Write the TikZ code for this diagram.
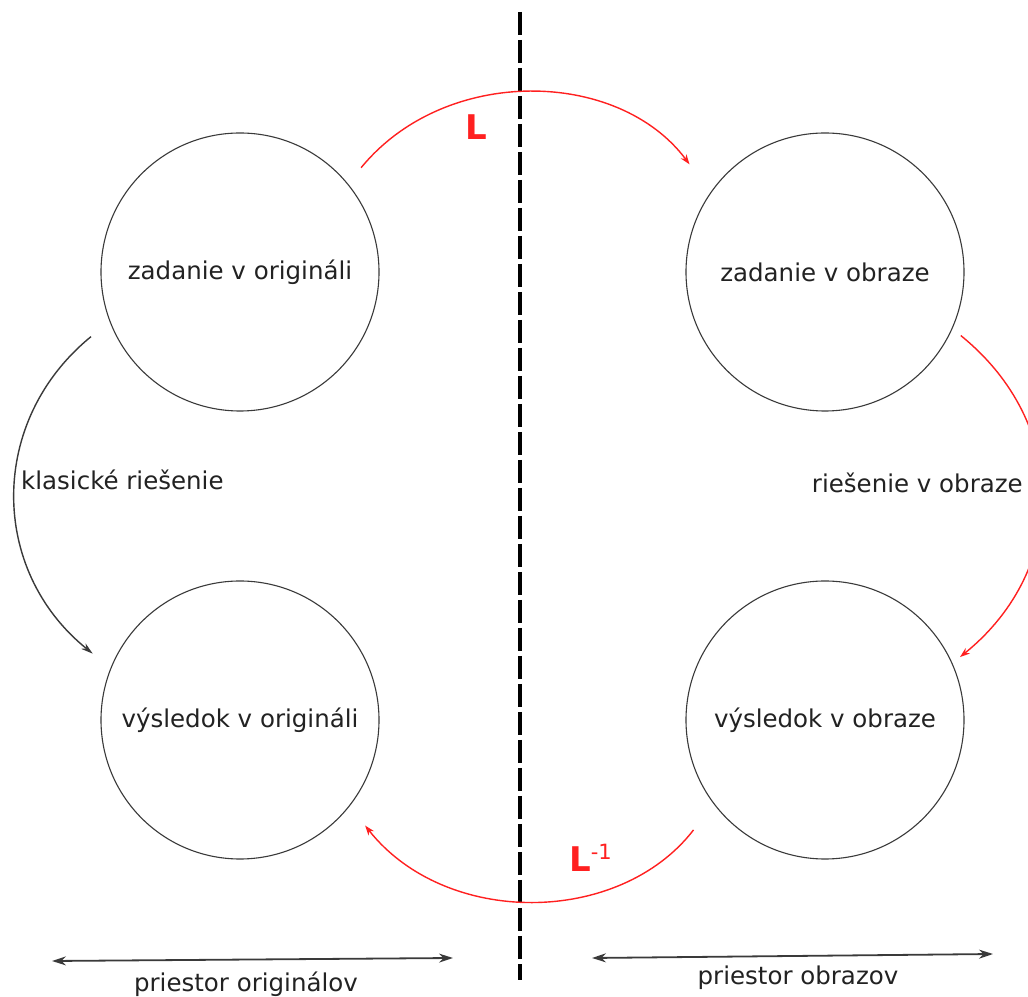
\documentclass[tikz,border=0pt]{standalone}
\usepackage{fontspec}
\setmainfont{DejaVu Sans}
\usepackage{xcolor}
\usetikzlibrary{positioning,arrows.meta}
\definecolor{cline}{HTML}{3A3A3A}
\definecolor{ctext}{HTML}{222222}
\definecolor{cred}{HTML}{FF2020}
\tikzset{
  c/.style   = {circle, draw=cline, line width=1.1pt, minimum size=278pt,
                inner sep=0pt, outer sep=10pt, align=center,
                font=\fontsize{24.5}{28}\selectfont, text=ctext},
  lb/.style  = {font=\fontsize{24.5}{28}\selectfont, text=ctext, inner sep=0pt},
  ll/.style  = {font=\fontsize{34}{38}\selectfont\bfseries, text=cred, inner sep=0pt},
  ar/.style  = {-{Stealth[length=10pt,width=7pt]}, line width=1.4pt, draw=cred},
  ak/.style  = {-{Stealth[length=12pt,width=7pt]}, line width=1.4pt, draw=cline},
  as/.style  = {{Stealth[length=14pt,width=9pt]}-{Stealth[length=14pt,width=9pt]},
                line width=1.8pt, draw=cline},
  sep/.style = {line width=3.5pt, dash pattern=on 23pt off 5pt},
}
\begin{document}
\begin{tikzpicture}[x=1pt, y=1pt]
\path[use as bounding box, fill=white] (0,0) rectangle (1028,996);

\node[c] (zo) at (240,724) {zadanie v origináli};
\node[c] (zb) at (825,724) {zadanie v obraze};
\node[c] (vo) at (240,276) {výsledok v origináli};
\node[c] (vb) at (825,276) {výsledok v obraze};

% the dividing line between the two spaces
\coordinate (top) at (520,984);
\coordinate (bot) at (520,16);
\draw[sep] (top) -- (bot);

% transform and inverse transform
\draw[ar, shorten <=11pt, shorten >=25pt, looseness=1.05] (zo.40) to[bend left=52] (zb.144);
\draw[ar, shorten <=23pt, shorten >=15pt, looseness=1.05] (vb.218) to[bend left=52] (vo.321);
\node[ll, anchor=base west] (l) at (465,856) {L};
\node[ll, anchor=base west] (li) at (569,124)
  {L\raisebox{12pt}{\fontsize{21}{21}\selectfont\mdseries -1}};

% the two ways of solving
\draw[ak, shorten <=14pt, shorten >=13pt, looseness=1.12] (zo.202) to[bend right=51] (vo.157);
\draw[ar, shorten <=1pt, looseness=1.12] (zb.335) to[bend left=51] (vb.25);
\node[lb, anchor=west] (kr) at (21,516) {klasické riešenie};
\node[lb, anchor=east] (ro) at (1023,513) {riešenie v obraze};

% the two spaces
\coordinate (oa) at (52,35);
\coordinate (ob) at (453,38);
\coordinate (ba) at (592,38);
\coordinate (bb) at (993,42);
\draw[as] (oa) -- (ob);
\draw[as] (ba) -- (bb);
\node[lb, anchor=base] (po) at (246,5) {priestor originálov};
\node[lb, anchor=base] (pb) at (798,12) {priestor obrazov};

\end{tikzpicture}
\end{document}
